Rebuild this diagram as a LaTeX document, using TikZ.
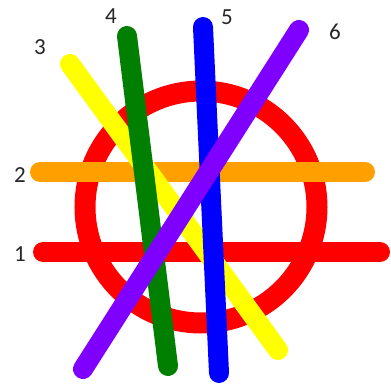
\documentclass[tikz,border=0pt]{standalone}
\usepackage{fontspec}
\setmainfont{Carlito}
\usepackage{tikz}
\usepackage{xcolor}
\definecolor{StickRed}{HTML}{FF0000}
\definecolor{StickOrange}{HTML}{FFA000}
\definecolor{StickYellow}{HTML}{FFFF00}
\definecolor{StickGreen}{HTML}{007F00}
\definecolor{StickBlue}{HTML}{0000FF}
\definecolor{StickPurple}{HTML}{8000FF}
\definecolor{LabelGray}{HTML}{262626}
\tikzset{
    % sticks - thick straight bars with round ends
    stick/.style={
        line width=20pt,
        line cap=round
    },
    ring/.style={
        draw=StickRed,
        line width=21pt
    },
    % numbers beside the sticks
    numlabel/.style={
        text=LabelGray,
        inner sep=0pt,
        font=\fontsize{23}{27}\selectfont
    }
}
\begin{document}
\begin{tikzpicture}[x=1pt, y=-1pt]
    \useasboundingbox (0,0) rectangle (391,387);

    % end points of the sticks
    \coordinate (s1a) at (43,252);  \coordinate (s1b) at (380,252);
    \coordinate (s2a) at (40,172);  \coordinate (s2b) at (365,172);
    \coordinate (s3a) at (70,64);   \coordinate (s3b) at (278,350);
    \coordinate (s4a) at (127,36);  \coordinate (s4b) at (168,366);
    \coordinate (s5a) at (203,27);  \coordinate (s5b) at (219,373);
    \coordinate (s6a) at (299,30);  \coordinate (s6b) at (83,369);
    \coordinate (mid) at (201,207);

    % circle first, then sticks in order
    \draw[ring] (mid) circle (116);
    \draw[stick, StickRed] (s1a) -- (s1b);
    \draw[stick, StickOrange] (s2a) -- (s2b);
    \draw[stick, StickYellow] (s3a) -- (s3b);
    \draw[stick, StickGreen] (s4a) -- (s4b);
    \draw[stick, StickBlue] (s5a) -- (s5b);
    \draw[stick, StickPurple] (s6a) -- (s6b);

    \node[numlabel] (n1) at (20,254) {1};
    \node[numlabel] (n2) at (20,175) {2};
    \node[numlabel] (n3) at (40,47) {3};
    \node[numlabel] (n4) at (111,16) {4};
    \node[numlabel] (n5) at (227,17) {5};
    \node[numlabel] (n6) at (335,32) {6};
\end{tikzpicture}
\end{document}
